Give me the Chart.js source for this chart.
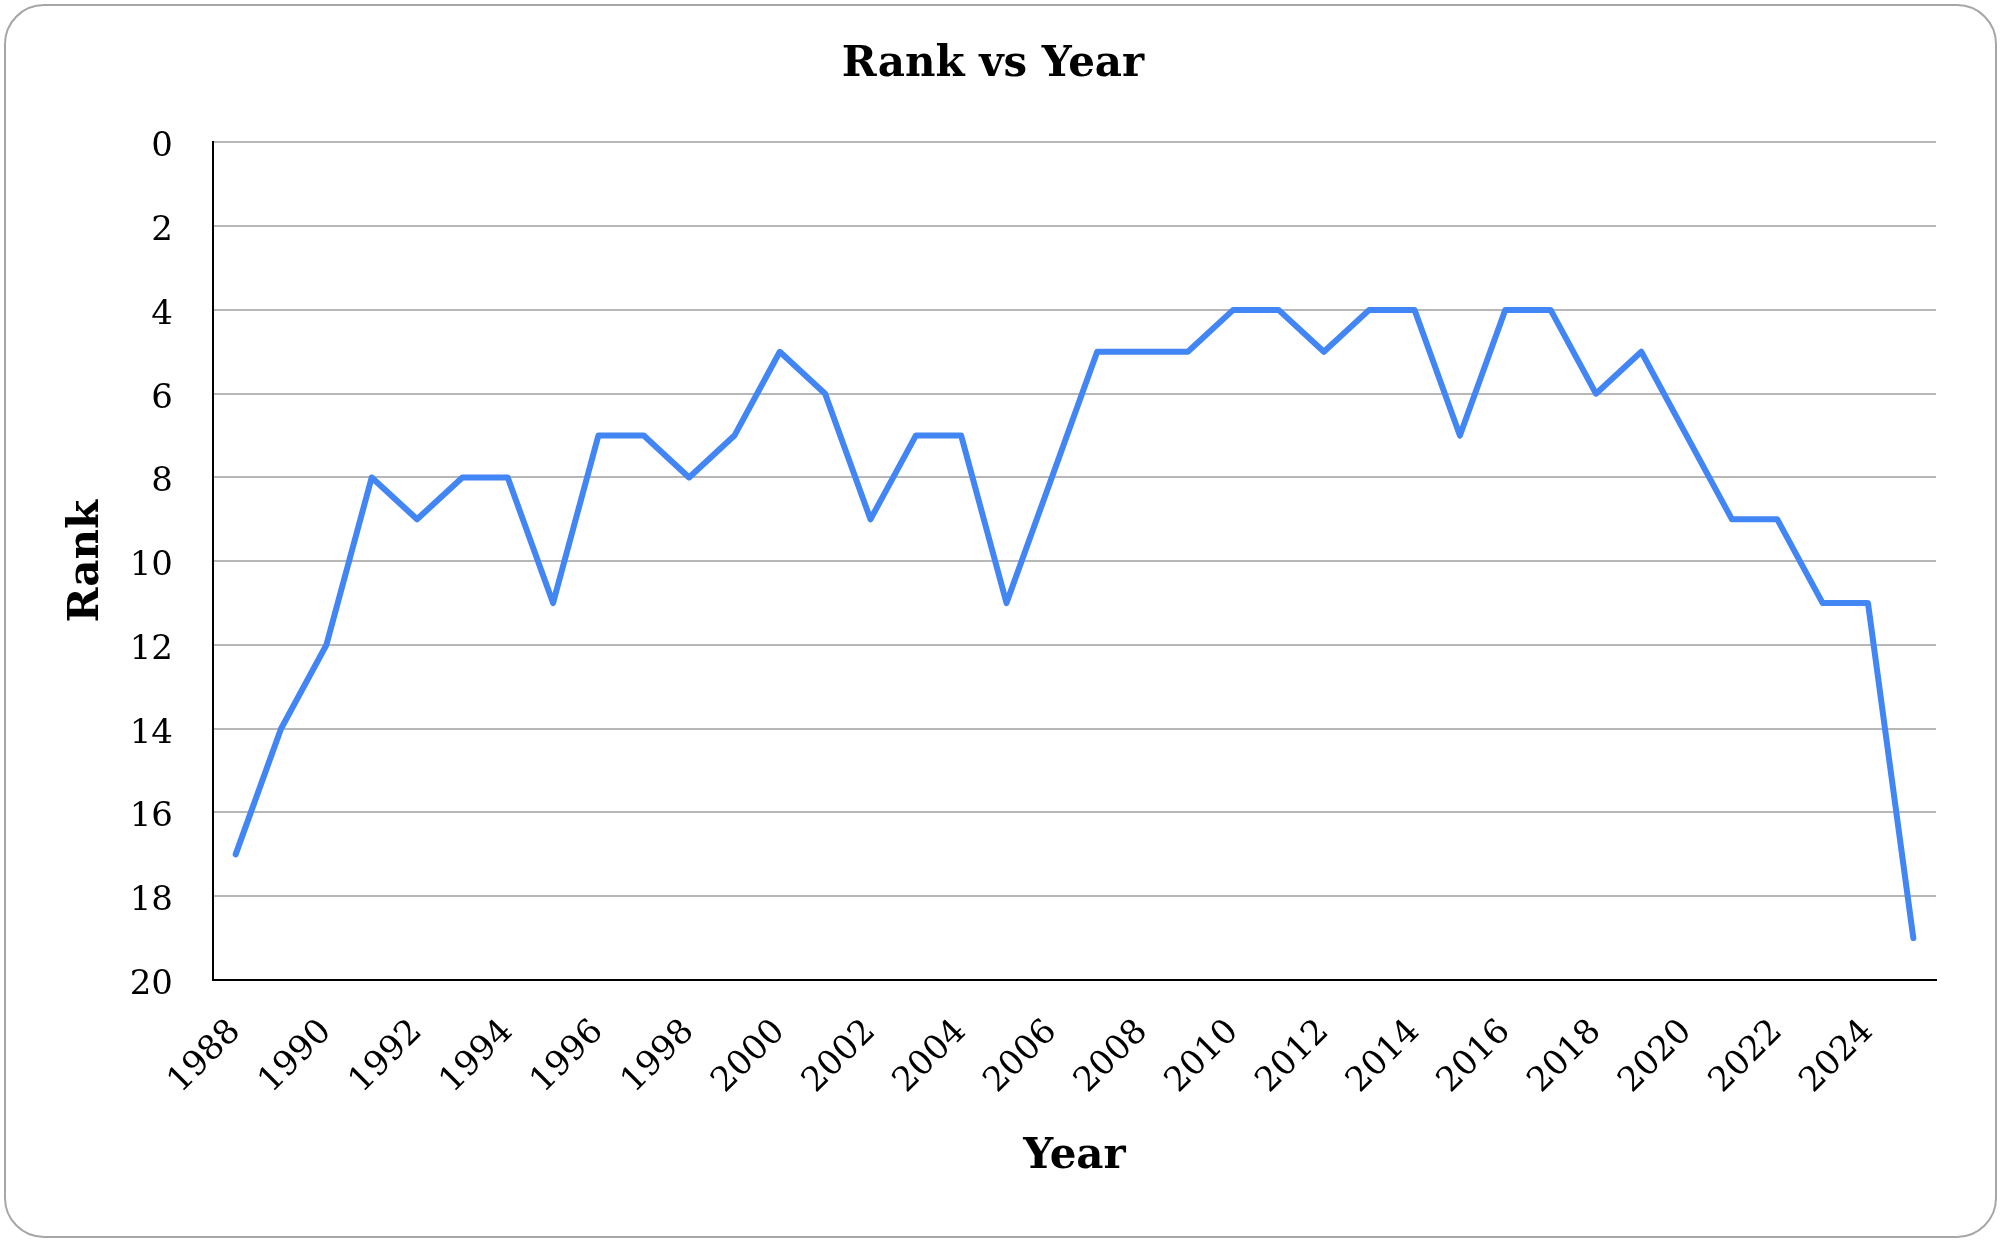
<!DOCTYPE html>
<html>
<head>
  <meta name="viewport" content="width=device-width, initial-scale=1.0">
  <title>Rank vs Year</title>
  <script src="https://cdn.jsdelivr.net/npm/chart.js"></script>
  <style>
    body {
      margin: 0;
      padding: 0;
      background: #fff;
    }
    .frame {
      position: relative;
      width: 2000px;
      height: 1243px;
    }
    .frame::after {
      content: "";
      position: absolute;
      left: 4px;
      top: 4px;
      width: 1989px;
      height: 1230px;
      border: 2px solid #a6a6a6;
      border-radius: 40px;
      pointer-events: none;
    }
    canvas {
      position: absolute;
      left: 0;
      top: 0;
    }
  </style>
</head>
<body>
  <div class="frame">
    <canvas id="myChart" width="2000" height="1243"></canvas>
  </div>

  <script>
    const years = ['1988', '1989', '1990', '1991', '1992', '1993', '1994', '1995', '1996', '1997',
      '1998', '1999', '2000', '2001', '2002', '2003', '2004', '2005', '2006', '2007',
      '2008', '2009', '2010', '2011', '2012', '2013', '2014', '2015', '2016', '2017',
      '2018', '2019', '2020', '2021', '2022', '2023', '2024', '2025'];
    const ranks = [17, 14, 12, 8, 9, 8, 8, 11, 7, 7,
      8, 7, 5, 6, 9, 7, 7, 11, 8, 5,
      5, 5, 4, 4, 5, 4, 4, 7, 4, 4,
      6, 5, 7, 9, 9, 11, 11, 19];
    const rankMin = 0;
    const rankMax = 20;
    const rankStep = 2;

    const serif = "'DejaVu Serif', 'Liberation Serif', serif";

    const ctx = document.getElementById('myChart').getContext('2d');
    const chart = new Chart(ctx, {
      type: 'line',
      data: {
        labels: years,
        datasets: [{
          label: 'Rank',
          data: ranks,
          borderColor: '#4285f4',
          borderWidth: 6,
          pointRadius: 0,
          tension: 0,
          borderJoinStyle: 'round',
          borderCapStyle: 'round'
        }]
      },
      options: {
        responsive: false,
        animation: false,
        devicePixelRatio: 1,
        layout: {
          padding: { left: 50, right: 64, top: 20, bottom: 60 }
        },
        plugins: {
          legend: { display: false },
          tooltip: { enabled: false },
          title: {
            display: true,
            text: 'Rank vs Year',
            color: '#000',
            font: { family: serif, size: 42, weight: 'bold' },
            padding: { top: 20, bottom: 52 }
          }
        },
        scales: {
          x: {
            offset: true,
            grid: { display: false },
            border: { display: true, color: '#000', width: 2 },
            ticks: {
              color: '#000',
              font: { family: serif, size: 34 },
              autoSkip: false,
              minRotation: 45,
              maxRotation: 45,
              padding: 24,
              callback: function (value, index) {
                return index % 2 === 0 ? years[index] : '';
              }
            },
            title: {
              display: true,
              text: 'Year',
              color: '#000',
              font: { family: serif, size: 42, weight: 'bold' },
              padding: { top: 1, bottom: 1 }
            },
            afterFit: function (scale) {
              scale.height = 203;
            }
          },
          y: {
            reverse: true,
            min: rankMin,
            max: rankMax,
            grid: { color: '#b7b7b7', lineWidth: 2, drawTicks: false },
            border: { display: true, color: '#000', width: 2 },
            ticks: {
              stepSize: rankStep,
              color: '#000',
              font: { family: serif, size: 34 },
              padding: 40,
              labelOffset: 5
            },
            title: {
              display: true,
              text: 'Rank',
              color: '#000',
              font: { family: serif, size: 42, weight: 'bold' },
              padding: { top: 12, bottom: 12 }
            },
            afterFit: function (scale) {
              scale.width = 163;
            }
          }
        }
      }
    });
  </script>
</body>
</html>
